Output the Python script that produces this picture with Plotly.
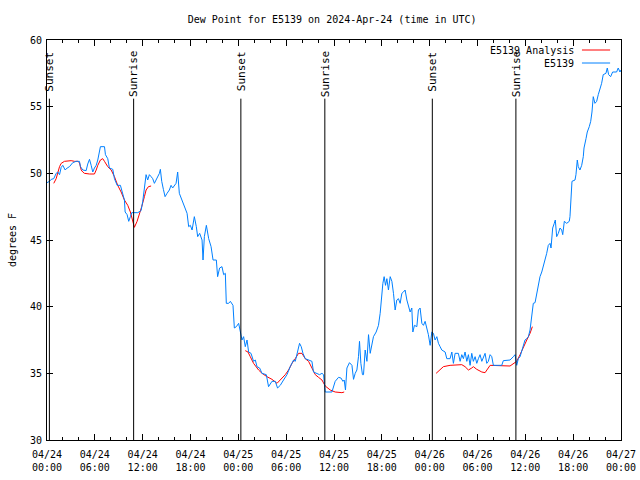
import pandas as pd
import plotly.graph_objects as go

# ---------------- data ----------------
start = pd.Timestamp("2024-04-24 00:00")

obs_hours = [0.0, 0.31, 0.53, 0.85, 1.15, 1.35, 1.57, 1.78, 1.98, 2.28, 2.53, 2.82, 3.23, 3.66, 4.07, 4.20,
             4.49, 4.91, 5.11, 5.33, 5.54, 5.74, 5.95, 6.17, 6.37, 6.58, 6.70, 7.21, 7.33, 7.62, 7.83, 8.25,
             8.46, 8.80, 9.21, 9.71, 9.80, 10.05, 10.25, 10.46, 10.63, 11.38, 11.80, 12.01, 12.22, 12.43, 12.63,
             12.84, 13.06, 13.26, 13.47, 13.68, 14.10, 14.22, 14.39, 14.60, 14.81, 15.06, 15.35, 15.56, 15.76,
             16.19, 16.39, 16.60, 17.14, 17.57, 17.77, 17.98, 18.20, 18.48, 18.73, 18.90, 19.15, 19.45, 19.57,
             19.74, 19.99, 20.28, 20.58, 20.83, 21.24, 21.40, 21.65, 21.95, 22.16, 22.37, 22.49, 22.78, 23.00,
             23.33, 23.50, 23.75, 24.04, 24.25, 24.46, 24.66, 24.87, 25.09, 25.29, 25.59, 25.91, 26.13, 26.34,
             26.67, 26.97, 27.51, 27.79, 28.22, 28.63, 28.92, 29.26, 29.67, 30.10, 30.51, 30.93, 31.14, 31.35,
             31.68, 31.89, 32.11, 32.39, 32.81, 33.23, 33.43, 33.77, 34.19, 34.49, 34.69, 34.90, 35.74, 36.15,
             36.57, 36.87, 37.12, 37.28, 37.44, 37.62, 37.94, 38.25, 38.45, 38.66, 38.87, 39.07, 39.20, 39.37,
             39.57, 39.70, 39.91, 40.13, 40.33, 40.54, 40.75, 40.95, 41.29, 41.58, 41.79, 42.00, 42.13, 42.29,
             42.46, 42.63, 42.83, 43.05, 43.26, 43.46, 43.67, 43.88, 44.08, 44.30, 44.51, 44.71, 44.92, 45.14,
             45.34, 45.55, 45.76, 45.89, 46.09, 46.39, 46.59, 46.80, 47.02, 47.22, 47.43, 47.64, 47.84, 48.06,
             48.27, 48.47, 48.68, 48.90, 49.10, 49.31, 49.52, 49.94, 50.15, 50.56, 50.78, 50.98, 51.19, 51.60,
             51.82, 52.03, 52.23, 52.44, 52.66, 52.86, 53.07, 53.28, 53.48, 53.70, 53.91, 54.11, 54.32, 54.54,
             54.74, 54.95, 55.16, 55.36, 55.58, 55.79, 55.99, 57.04, 57.24, 58.08, 58.50, 58.71, 58.92, 59.12,
             59.34, 59.55, 59.75, 59.96, 60.18, 60.38, 60.59, 60.71, 60.88, 61.00, 61.22, 61.43, 61.63, 61.84,
             62.06, 62.26, 62.47, 62.68, 62.88, 63.10, 63.22, 63.31, 63.43, 63.63, 63.76, 63.93, 64.14, 64.35,
             64.56, 64.69, 64.89, 65.19, 65.51, 65.60, 65.73, 65.85, 66.23, 66.35, 66.52, 66.64, 66.85, 67.07,
             67.27, 67.36, 67.61, 67.77, 68.02, 68.20, 68.36, 68.52, 68.73, 68.95, 69.15, 69.36, 69.57, 69.77,
             70.11, 70.28, 70.45, 70.70, 70.95, 71.45, 71.65, 71.87, 72.0]
obs_values = [49.3, 49.4, 49.55, 49.6, 50.0, 50.1, 49.9, 50.45, 50.6, 50.25, 50.4, 50.5, 50.8, 50.9, 50.9, 50.5,
              50.25, 50.2, 50.7, 51.05, 50.6, 50.1, 50.4, 50.6, 51.0, 51.5, 52.0, 52.0, 51.4, 51.1, 50.4, 50.3,
              49.6, 49.1, 49.1, 48.0, 47.1, 46.9, 46.4, 46.75, 47.05, 47.05, 47.2, 47.9, 48.75, 49.9, 49.5,
              49.9, 49.75, 49.6, 49.25, 49.5, 50.0, 50.3, 49.4, 48.8, 48.25, 48.5, 48.75, 49.1, 48.9,
              49.25, 50.1, 48.5, 47.6, 47.0, 46.0, 46.1, 45.75, 46.75, 46.0, 45.25, 45.5, 45.0, 43.5,
              45.25, 46.1, 45.1, 44.5, 43.5, 43.5, 42.25, 42.9, 43.0, 42.4, 42.5, 40.25, 40.25, 40.4,
              40.1, 38.4, 38.5, 38.75, 38.0, 37.5, 37.75, 37.0, 37.5, 36.6, 36.5, 35.9, 36.0, 35.5,
              35.4, 35.0, 34.9, 34.0, 34.4, 34.4, 33.9, 34.1, 34.5, 34.9, 35.5, 36.0, 35.9, 36.4,
              37.25, 37.0, 36.5, 36.1, 36.0, 35.9, 35.1, 35.0, 34.9, 35.0, 34.9, 33.6, 33.6, 34.4,
              34.7, 34.65, 34.4, 34.5, 33.75, 35.4, 35.8, 35.6, 34.55, 35.0, 35.25, 36.25, 37.4, 35.75,
              34.9, 34.9, 36.75, 35.9, 37.9, 36.5, 37.1, 37.75, 38.1, 38.6, 39.5, 41.1, 41.75, 42.25,
              41.6, 42.1, 41.25, 42.25, 41.9, 41.0, 39.75, 40.5, 40.6, 40.25, 41.0, 41.1, 41.25, 40.5,
              40.0, 39.6, 39.9, 38.1, 38.6, 38.5, 39.75, 39.9, 38.75, 38.6, 38.9, 38.4, 37.9, 37.1,
              38.1, 38.0, 37.5, 37.75, 37.25, 37.0, 36.75, 36.6, 36.1, 36.1, 36.6, 35.75, 36.5, 36.5,
              35.9, 36.4, 36.1, 36.6, 35.9, 36.4, 35.6, 36.5, 35.9, 36.25, 35.75, 36.1, 36.4, 35.9,
              36.25, 36.5, 35.75, 35.9, 36.4, 36.25, 35.6, 35.6, 35.95, 36.0, 36.25, 36.4, 35.6, 36.1,
              36.25, 36.75, 37.0, 37.5, 37.6, 37.75, 38.25, 38.75, 39.75, 40.25, 40.3, 41.0, 41.75, 42.25,
              42.6, 43.0, 43.5, 44.0, 44.6, 44.75, 44.4, 45.25, 45.9, 46.25, 46.5, 45.25, 45.5, 45.9,
              45.75, 45.4, 46.4, 46.25, 46.4, 46.75, 48.5, 49.4, 49.5, 49.9, 51.0, 50.5, 50.25, 50.6,
              51.25, 51.9, 52.6, 53.1, 53.5, 53.9, 54.6, 55.75, 55.25, 55.4, 55.9, 56.25, 56.75, 57.4,
              57.5, 57.9, 57.4, 57.25, 57.6, 57.6, 57.9, 57.6, 57.75]

ana1_hours = [0.85, 1.15, 1.57, 1.78, 2.19, 2.61, 3.03, 3.45, 3.86, 4.07, 4.29, 4.49, 4.70, 5.33, 5.95, 6.17,
              6.37, 6.70, 6.99, 7.21, 7.62, 8.05, 8.46, 8.87, 9.30, 9.71, 10.13, 10.46, 10.75, 10.96, 11.30,
              11.59, 11.88, 12.22, 12.43, 12.72, 13.06]
ana1_values = [49.25, 49.6, 50.5, 50.75, 50.9, 50.95, 50.95, 50.9, 50.9, 50.8, 50.25, 50.1, 50.0, 49.95, 49.95,
               50.25, 50.6, 51.0, 51.1, 50.9, 50.5, 50.25, 49.75, 49.1, 48.6, 48.0, 47.6, 47.1, 46.5, 45.95,
               46.4, 46.9, 47.5, 48.25, 48.75, 49.0, 49.05]
ana2_hours = [24.87, 25.21, 25.50, 25.91, 26.54, 26.97, 27.59, 28.22, 28.85, 29.26, 29.89, 30.30, 30.73, 31.14,
              31.55, 31.98, 32.39, 32.81, 33.23, 33.65, 34.06, 34.49, 34.90, 35.53, 36.15, 36.99, 37.28]
ana2_values = [36.7, 36.6, 36.25, 35.75, 35.25, 35.0, 34.75, 34.55, 34.25, 34.5, 34.9, 35.25, 35.75, 36.1,
               36.5, 36.5, 36.1, 35.9, 35.4, 34.9, 34.7, 34.5, 34.05, 33.75, 33.6, 33.55, 33.6]
ana3_hours = [48.81, 49.22, 49.72, 50.56, 51.40, 52.03, 52.44, 52.86, 53.28, 53.48, 53.91, 54.54, 54.95, 55.16,
              55.58, 58.08, 58.50, 58.92, 59.34, 59.75, 60.18, 60.59, 60.88]
ana3_values = [35.0, 35.25, 35.5, 35.6, 35.6, 35.65, 35.5, 35.25, 35.4, 35.5, 35.3, 35.1, 35.05, 35.25,
               35.6, 35.55, 35.7, 35.9, 36.4, 37.0, 37.5, 38.0, 38.5]

sun_times = ["2024-04-24 00:18", "2024-04-24 10:52", "2024-04-25 00:19",
             "2024-04-25 10:51", "2024-04-26 00:20", "2024-04-26 10:49"]
sun_labels = ["Sunset", "Sunrise", "Sunset", "Sunrise", "Sunset", "Sunrise"]

tick_times = pd.date_range("2024-04-24 00:00", "2024-04-27 00:00", freq="6h")
tick_labels = [t.strftime("%m/%d<br>%H:%M") for t in tick_times]

series_names = ["E5139 Analysis", "E5139"]
series_colors = ["#ff0000", "#0080ff"]

# ---------------- build ----------------
def to_time(hours):
    return list(start + pd.to_timedelta(hours, unit="h"))

ana_x = to_time(ana1_hours) + [None] + to_time(ana2_hours) + [None] + to_time(ana3_hours)
ana_y = ana1_values + [None] + ana2_values + [None] + ana3_values

FONT = "DejaVu Sans Mono"
FS = 10
fig = go.Figure()
fig.add_trace(go.Scatter(x=ana_x, y=ana_y, mode="lines", name=series_names[0],
                         line=dict(color=series_colors[0], width=1), connectgaps=False))
fig.add_trace(go.Scatter(x=to_time(obs_hours), y=obs_values, mode="lines", name=series_names[1],
                         line=dict(color=series_colors[1], width=1)))

for t, lab in zip(sun_times, sun_labels):
    fig.add_shape(type="line", xref="x", yref="y", x0=t, x1=t, y0=30, y1=55.6,
                  line=dict(color="black", width=1))
    fig.add_annotation(x=t, y=59.3, xref="x", yref="y", text=lab, textangle=-90,
                       showarrow=False, xanchor="center", yanchor="top",
                       font=dict(family=FONT, size=FS + 1, color="black"))

# manual legend (text right, sample line to its right)
leg_y = [0.975, 0.9425]
for name, col, yy in zip(series_names, series_colors, leg_y):
    fig.add_annotation(x=0.921, y=yy, xref="paper", yref="paper", text=name, showarrow=False,
                       xanchor="right", yanchor="middle", font=dict(family=FONT, size=FS, color="black"))
    fig.add_shape(type="line", xref="paper", yref="paper", x0=0.932, x1=0.981, y0=yy, y1=yy,
                  line=dict(color=col, width=1))

fig.update_layout(
    width=640, height=480,
    margin=dict(l=47, r=19, t=40, b=40, autoexpand=False),
    paper_bgcolor="white", plot_bgcolor="white",
    showlegend=False,
    title=dict(text="Dew Point for E5139 on 2024-Apr-24 (time in UTC)", x=0.519, xanchor="center",
               y=1 - 19 / 480, yanchor="middle", font=dict(family=FONT, size=FS, color="black")),
    font=dict(family=FONT, size=FS, color="black"),
)
fig.update_xaxes(range=[tick_times[0], tick_times[-1]], tickvals=list(tick_times), ticktext=tick_labels,
                 ticks="inside", ticklen=6, tickcolor="black", showline=True, linecolor="black",
                 linewidth=1, mirror="allticks", showgrid=False, zeroline=False, automargin=False,
                 ticklabelstandoff=5,
                 minor=dict(dtick=2 * 3600 * 1000, ticks="inside", ticklen=3, tickcolor="black",
                            showgrid=False),
                 tickfont=dict(family=FONT, size=FS))
fig.update_yaxes(range=[30, 60], dtick=5, ticks="inside", ticklen=6, tickcolor="black", showline=True,
                 linecolor="black", linewidth=1, mirror="allticks", showgrid=False, zeroline=False,
                 automargin=False, ticklabelstandoff=2,
                 title=dict(text="degrees F", font=dict(family=FONT, size=FS), standoff=11),
                 tickfont=dict(family=FONT, size=FS))

fig.write_html("out.html", config={"displayModeBar": False},
               post_script="document.body.style.margin='0';document.body.style.padding='0';")
